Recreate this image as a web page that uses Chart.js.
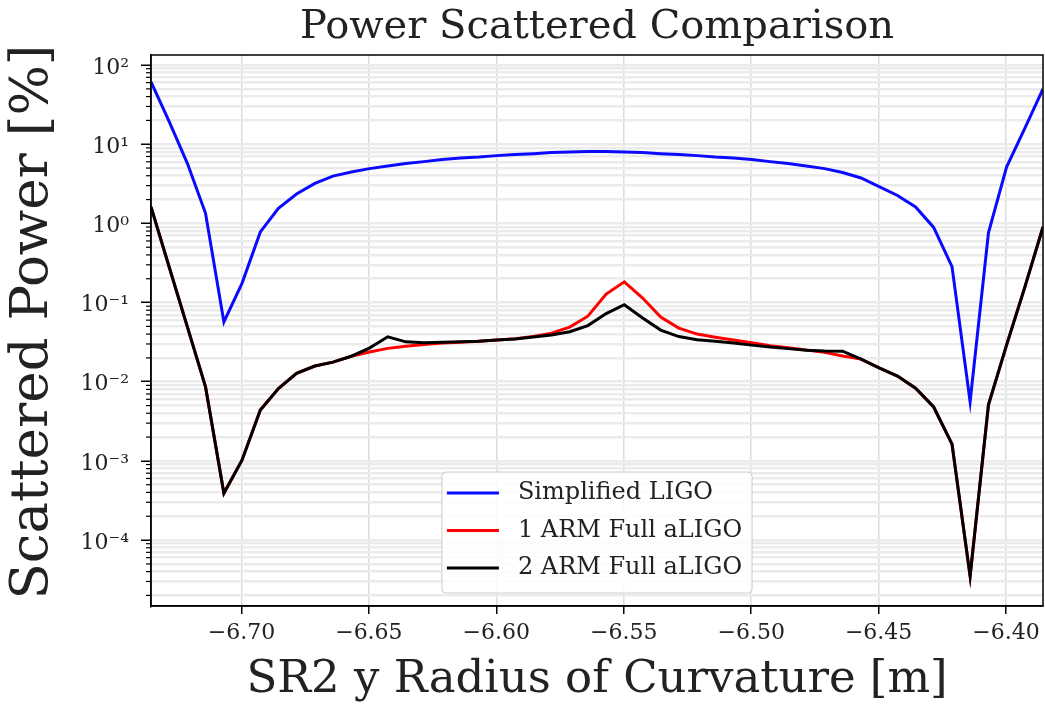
<!DOCTYPE html>
<html><head><meta charset="utf-8">
<script src="https://cdn.jsdelivr.net/npm/chart.js@4.4.1/dist/chart.umd.min.js"></script>
<style>html,body{margin:0;padding:0;background:#fff;}#wrap{width:1045px;height:705px;}</style>
</head><body><div id="wrap"><canvas id="c" width="1045" height="705"></canvas></div>
<script>
// ---- data ----
const radius = [-6.7355,-6.7284,-6.7212,-6.7141,-6.7069,-6.6998,-6.6926,-6.6855,-6.6784,-6.6712,
  -6.6641,-6.6569,-6.6498,-6.6426,-6.6355,-6.6284,-6.6212,-6.6141,-6.6069,-6.5998,
  -6.5926,-6.5855,-6.5784,-6.5712,-6.5641,-6.5569,-6.5498,-6.5426,-6.5355,-6.5284,
  -6.5212,-6.5141,-6.5069,-6.4998,-6.4926,-6.4855,-6.4784,-6.4712,-6.4641,-6.4569,
  -6.4498,-6.4426,-6.4355,-6.4284,-6.4212,-6.4141,-6.4069,-6.3998,-6.3926,-6.3855];
const simplifiedLIGO = [61.5,19.5,5.7,1.34,0.057,0.175,0.78,1.55,2.35,3.2,
  3.96,4.45,4.92,5.3,5.7,6.03,6.4,6.68,6.88,7.18,
  7.4,7.6,7.84,7.95,8.07,8.07,7.95,7.84,7.6,7.4,
  7.18,6.88,6.68,6.4,6.03,5.7,5.3,4.92,4.4,3.75,
  2.92,2.25,1.61,0.89,0.285,0.0056,0.76,5.14,16,50];
const oneArmFull = [1.62,0.283,0.049,0.0086,0.00039,0.00102,0.0044,0.0082,0.0128,0.0158,
  0.0177,0.021,0.0237,0.0264,0.028,0.0295,0.0308,0.0316,0.0325,0.0336,
  0.035,0.0372,0.0411,0.049,0.0673,0.128,0.183,0.114,0.0655,0.0476,
  0.04,0.0365,0.0336,0.031,0.0285,0.0268,0.0252,0.0235,0.0211,0.0193,
  0.015,0.0118,0.0083,0.0048,0.00163,0.000035,0.0051,0.029,0.158,0.9];
const twoArmFull = [1.62,0.283,0.049,0.0086,0.00039,0.00102,0.0044,0.0082,0.0128,0.0158,
  0.0177,0.021,0.0266,0.037,0.0319,0.031,0.0316,0.032,0.0325,0.0336,
  0.0346,0.0367,0.039,0.0428,0.0512,0.0726,0.094,0.0637,0.0449,0.0372,
  0.034,0.0325,0.0308,0.029,0.0274,0.0262,0.025,0.0244,0.0243,0.0193,
  0.015,0.0118,0.0083,0.0048,0.00163,0.000035,0.0051,0.029,0.158,0.9];
const seriesNames = ['Simplified LIGO','1 ARM Full aLIGO','2 ARM Full aLIGO'];
const xTickValues = [-6.70,-6.65,-6.60,-6.55,-6.50,-6.45,-6.40];
const yDecadeExps = [-4,-3,-2,-1,0,1,2];
const yDecadeLabels = ['10\u207B\u2074','10\u207B\u00B3','10\u207B\u00B2','10\u207B\u00B9','10\u2070','10\u00B9','10\u00B2'];
const gridDecades = [1e-5,1e-4,1e-3,1e-2,1e-1,1,10,100];

const FONT = "'DejaVu Serif', serif";
const TXT = '#222';
function decadeExp(v){ const l = Math.log10(v); const r = Math.round(l); return Math.abs(l-r) < 1e-6 ? r : null; }

const decor = {
  id: 'decor',
  afterDatasetsDraw(chart){
    const {ctx, chartArea:a} = chart;
    const ys = chart.scales.y;
    ctx.save();
    // minor y ticks
    ctx.strokeStyle = '#000'; ctx.lineWidth = 1.2;
    ys.ticks.forEach(t => {
      if (decadeExp(t.value) === null) {
        const p = ys.getPixelForValue(t.value);
        ctx.beginPath(); ctx.moveTo(a.left - 5, p); ctx.lineTo(a.left, p); ctx.stroke();
      }
    });
    // frame
    ctx.lineWidth = 1.5;
    ctx.strokeRect(a.left, a.top, a.right - a.left, a.bottom - a.top);
    // legend (lower center)
    ctx.font = '24px ' + FONT;
    const ds = chart.data.datasets;
    let maxW = 0; ds.forEach(d => { maxW = Math.max(maxW, ctx.measureText(d.label).width); });
    const padL = 5, handle = 52, gap = 19, padR = 10, rowH = 37.5;
    const w = padL + handle + gap + maxW + padR;
    const h = 2*rowH + 46;
    const x0 = (a.left + a.right)/2 - w/2;
    const y0 = a.bottom - 13 - h;
    ctx.beginPath();
    if (ctx.roundRect) ctx.roundRect(x0, y0, w, h, 4); else ctx.rect(x0, y0, w, h);
    ctx.fillStyle = 'rgba(255,255,255,0.85)'; ctx.fill();
    ctx.strokeStyle = '#cccccc'; ctx.lineWidth = 1; ctx.stroke();
    ds.forEach((d, i) => {
      const cy = y0 + 21 + i*rowH;
      ctx.strokeStyle = d.borderColor; ctx.lineWidth = 3;
      ctx.beginPath(); ctx.moveTo(x0 + padL, cy); ctx.lineTo(x0 + padL + handle, cy); ctx.stroke();
      ctx.fillStyle = TXT; ctx.textBaseline = 'middle'; ctx.textAlign = 'left';
      ctx.fillText(d.label, x0 + padL + handle + gap, cy);
    });
    ctx.restore();
  }
};

const toPts = arr => radius.map((x, i) => ({x, y: arr[i]}));

new Chart(document.getElementById('c'), {
  type: 'line',
  data: {
    datasets: [
      {label: seriesNames[0], data: toPts(simplifiedLIGO), borderColor: '#0a0aff', order: 2},
      {label: seriesNames[1], data: toPts(oneArmFull), borderColor: '#ff0000', order: 1},
      {label: seriesNames[2], data: toPts(twoArmFull), borderColor: '#000000', order: 0}
    ]
  },
  options: {
    responsive: false, animation: false, devicePixelRatio: 1,
    layout: {padding: {left: 0, right: 2, top: 0, bottom: 0}},
    elements: {line: {borderWidth: 3, tension: 0, fill: false}, point: {radius: 0}},
    plugins: {
      legend: {display: false},
      tooltip: {enabled: false},
      title: {display: true, text: 'Power Scattered Comparison', fullSize: false,
        font: {family: FONT, size: 40, weight: 'normal', lineHeight: 1.2}, color: TXT,
        padding: {top: 4, bottom: 3}}
    },
    scales: {
      x: {
        type: 'linear', min: radius[0], max: radius[radius.length-1],
        afterBuildTicks: s => { s.ticks = xTickValues.map(v => ({value: v})); },
        afterFit: s => { s.height = 99; s.paddingLeft = 0; s.paddingRight = 0; },
        ticks: {autoSkip: false, maxRotation: 0, padding: 6, color: TXT,
          font: {family: FONT, size: 22},
          callback: v => (v < 0 ? '\u2212' : '') + Math.abs(v).toFixed(2)},
        grid: {color: '#dcdcdc', lineWidth: 1.5, tickLength: 8, tickColor: '#000', tickWidth: 1.5},
        border: {display: true, color: '#000', width: 1.5},
        title: {display: true, text: 'SR2 y Radius of Curvature [m]', color: TXT,
          font: {family: FONT, size: 45, lineHeight: 1.1}, padding: {top: 0, bottom: 0}}
      },
      y: {
        type: 'logarithmic', min: 1.47e-5, max: 134,
        afterBuildTicks: s => {
          const t = [];
          gridDecades.forEach(d => { for (let m = 1; m <= 9; m++) { const v = d*m; if (v >= s.min && v <= s.max) t.push({value: v}); } });
          s.ticks = t;
        },
        afterFit: s => { s.width = 151; s.paddingTop = 0; s.paddingBottom = 0; },
        ticks: {autoSkip: false, padding: 12, color: TXT, labelOffset: 3,
          font: {family: FONT, size: 22},
          callback: v => { const e = decadeExp(v); const k = e === null ? -1 : yDecadeExps.indexOf(e); return k >= 0 ? yDecadeLabels[k] : ''; }},
        grid: {color: '#ebebeb', lineWidth: 2.5, tickLength: 10, tickWidth: 1.5,
          tickColor: c => (c.tick && decadeExp(c.tick.value) !== null) ? '#000' : 'rgba(0,0,0,0)'},
        border: {display: true, color: '#000', width: 1.5},
        title: {display: true, text: ' Scattered Power [%]', color: TXT,
          font: {family: FONT, size: 53, lineHeight: 1.2}, padding: {top: 1, bottom: 0}}
      }
    }
  },
  plugins: [decor]
});
</script></body></html>
